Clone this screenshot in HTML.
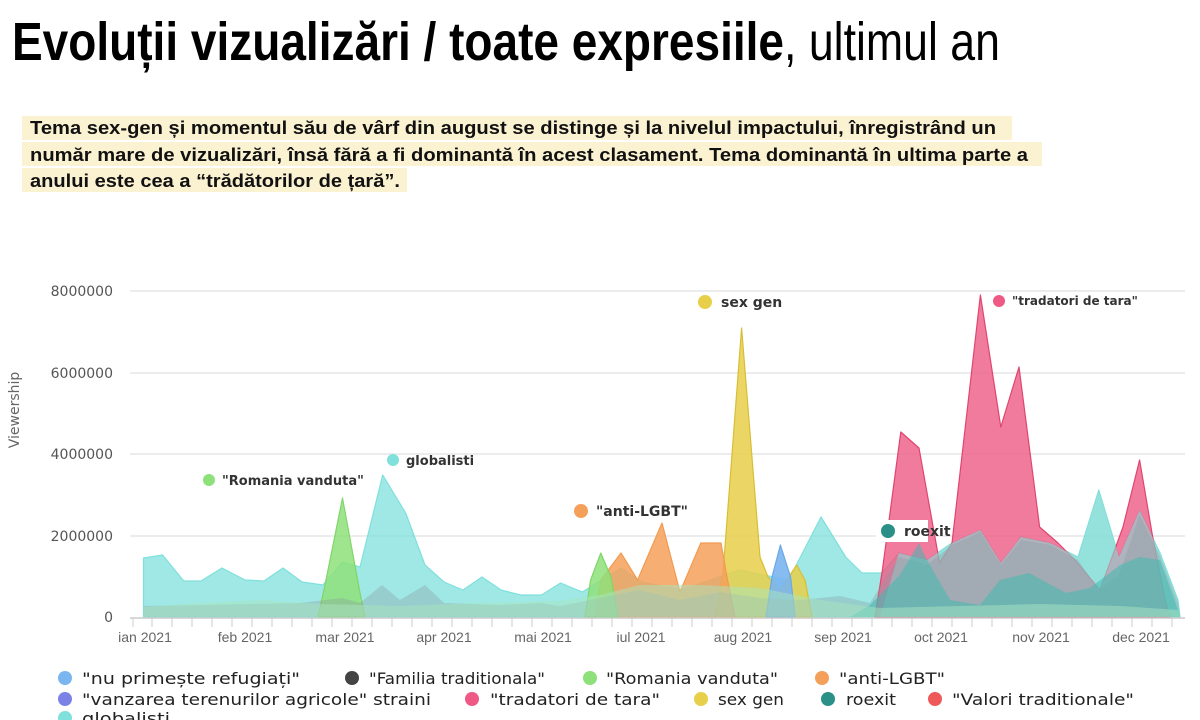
<!DOCTYPE html>
<html><head><meta charset="utf-8"><style>
html,body{margin:0;padding:0;background:#fff;width:1200px;height:720px;overflow:hidden}
svg{display:block}
</style></head><body>
<svg width="1200" height="720" viewBox="0 0 1200 720" xmlns="http://www.w3.org/2000/svg">
<!-- title -->
<text x="12" y="60" font-family="Liberation Sans Narrow, Liberation Sans, sans-serif" font-weight="bold" font-size="54" fill="#000" textLength="772" lengthAdjust="spacingAndGlyphs">Evoluții vizualizări / toate expresiile</text>
<text x="784" y="60" font-family="Liberation Sans Narrow, Liberation Sans, sans-serif" font-size="54" fill="#000" textLength="216" lengthAdjust="spacingAndGlyphs">, ultimul an</text>
<!-- paragraph highlight -->
<rect x="22" y="116" width="990" height="24" fill="#fbf2d2"/>
<rect x="22" y="142" width="1020" height="24" fill="#fbf2d2"/>
<rect x="22" y="168" width="385" height="24" fill="#fbf2d2"/>
<g font-family="Liberation Sans Narrow, Liberation Sans, sans-serif" font-weight="bold" font-size="18" fill="#111">
<text x="30" y="134" textLength="966" lengthAdjust="spacingAndGlyphs">Tema sex-gen și momentul său de vârf din august se distinge și la nivelul impactului, înregistrând un</text>
<text x="30" y="161" textLength="998" lengthAdjust="spacingAndGlyphs">număr mare de vizualizări, însă fără a fi dominantă în acest clasament. Tema dominantă în ultima parte a</text>
<text x="30" y="187" textLength="370" lengthAdjust="spacingAndGlyphs">anului este cea a “trădătorilor de țară”.</text>
</g>
<!-- grid -->
<g stroke="#e6e6e6" stroke-width="1.5">
<line x1="130" y1="291" x2="1185" y2="291"/>
<line x1="130" y1="373" x2="1185" y2="373"/>
<line x1="130" y1="454" x2="1185" y2="454"/>
<line x1="130" y1="536" x2="1185" y2="536"/>
</g>
<g font-family="DejaVu Sans, sans-serif" font-size="14" fill="#555" text-anchor="end">
<text x="113" y="296">8000000</text>
<text x="113" y="378">6000000</text>
<text x="113" y="459">4000000</text>
<text x="113" y="541">2000000</text>
<text x="113" y="622">0</text>
</g>
<text transform="translate(19,410) rotate(-90)" font-family="DejaVu Sans, sans-serif" font-size="14" fill="#666" text-anchor="middle">Viewership</text>
<!-- series -->
<g stroke-width="1.2" stroke-linejoin="round">
<!-- globalisti -->
<path fill="#7fe0dc" fill-opacity="0.75" stroke="#7fe0dc" d="M143.5,617 L143.5,558 162.6,555 183.7,581 201,581 222,568 245,580 264,581 283,568 302,582 323,585 342.5,562 360,567 382.7,475 405.7,513 425,565 444,582 463,590 482,577 501,590 520.5,595 541.5,595 560.6,583 582.4,592 621,568 641.6,582 682,590 739.6,570 788.6,580 821,517 845.7,557 862,573 882,573 898.8,553 927,560 952,543 980.4,530 1000.8,563 1021,537 1050,543 1078,557 1098.8,490 1119,557 1139.6,510 1160,553 1178,600 1180,617 Z"/>
<!-- tradatori -->
<path fill="#ee5a85" fill-opacity="0.8" stroke="#e0456f" d="M875,617 L882.4,570 900.8,432 919,448 939.6,563 952,543 980.4,295 1000.8,427 1019,367 1039.6,527 1058,543 1075,560 1100,590 1123,527 1139.6,460 1152,533 1165,600 1170,617 Z"/>
<!-- sex gen -->
<path fill="#e8cf4a" fill-opacity="0.85" stroke="#d9bd35" d="M715,617 L723,573 741.6,328 760,557 768,577 780,590 796.7,565 805,580 812,617 Z"/>
<!-- anti-LGBT -->
<path fill="#f5a05a" fill-opacity="0.85" stroke="#f29a50" d="M595,617 L600.8,580 621,553 637.6,580 662,523 680,592 700.8,543 721,543 727,577 735,617 Z"/>
<!-- Romania vanduta -->
<path fill="#8ee07a" fill-opacity="0.85" stroke="#7fd66a" d="M318,617 L325,585 342.5,498 360,593 365,617 Z"/>
<path fill="#8ee07a" fill-opacity="0.85" stroke="#7fd66a" d="M585,617 L590.6,580 600.8,553 611,577 618,617 Z"/>
<!-- nu primeste -->
<path fill="#7ab5f0" fill-opacity="0.9" stroke="#6aa8e8" d="M766,617 L772,577 780.4,545 790.6,577 795,617 Z"/>
<!-- overlap cyan over pink lower part -->
<path fill="#8fdcd6" fill-opacity="0.6" stroke="none" d="M880,617 L898.8,553 927,560 952,543 980.4,530 1000.8,563 1021,537 1050,543 1078,557 1098.8,490 1119,557 1139.6,510 1160,553 1178,600 1180,617 Z"/>
<!-- familia (gray overlay) -->
<path fill="#8a9aa0" fill-opacity="0.35" stroke="none" d="M143.5,617 L143.5,606 200,605 250,604 300,603 342,598 360,603 382,585 400,600 425,585 444,603 500,605 540,603 560,606 600,598 640,590 680,600 720,592 760,598 800,600 840,596 870,603 898.8,557 927,565 952,545 980.4,532 1000.8,565 1021,540 1050,545 1078,560 1098.8,590 1119,575 1139.6,515 1160,556 1178,603 1180,617 Z"/>
<!-- roexit / teal -->
<path fill="#3fbab0" fill-opacity="0.55" stroke="none" d="M850,617 L870,605 900,575 919,543 927,560 950,600 980,605 1000,580 1029,573 1066,593 1090,588 1120,565 1139.6,557 1160,560 1178,610 1180,617 Z"/>
<!-- mint low -->
<path fill="#a8e6c0" fill-opacity="0.5" stroke="none" d="M143.5,617 L143.5,607 200,603 260,600 320,604 400,606 480,603 560,601 600,595 640,585 700,585 760,588 820,600 880,608 960,606 1040,604 1120,606 1178,610 1180,617 Z"/>
</g>
<!-- x axis -->
<line x1="130" y1="618" x2="1185" y2="618" stroke="#ccc" stroke-width="1.5"/>
<g stroke="#ccc" stroke-width="1">
<path d="M133,618v9 M152,618v9 M172,618v9 M192,618v9 M212,618v9 M232,618v9 M252,618v9 M272,618v9 M292,618v9 M312,618v9 M332,618v9 M352,618v9 M372,618v9 M392,618v9 M412,618v9 M432,618v9 M452,618v9 M472,618v9 M492,618v9 M512,618v9 M532,618v9 M552,618v9 M572,618v9 M592,618v9 M612,618v9 M632,618v9 M652,618v9 M672,618v9 M692,618v9 M712,618v9 M732,618v9 M752,618v9 M772,618v9 M792,618v9 M812,618v9 M832,618v9 M852,618v9 M872,618v9 M892,618v9 M912,618v9 M932,618v9 M952,618v9 M972,618v9 M992,618v9 M1012,618v9 M1032,618v9 M1052,618v9 M1072,618v9 M1092,618v9 M1112,618v9 M1132,618v9 M1152,618v9 M1172,618v9"/>
</g>
<g font-family="Liberation Sans Narrow, Liberation Sans, sans-serif" font-size="14" fill="#666" text-anchor="middle">
<text x="145" y="642">ian 2021</text>
<text x="245" y="642">feb 2021</text>
<text x="345" y="642">mar 2021</text>
<text x="444" y="642">apr 2021</text>
<text x="543" y="642">mai 2021</text>
<text x="641" y="642">iul 2021</text>
<text x="743" y="642">aug 2021</text>
<text x="843" y="642">sep 2021</text>
<text x="941" y="642">oct 2021</text>
<text x="1041" y="642">nov 2021</text>
<text x="1141" y="642">dec 2021</text>
</g>
<!-- annotations -->
<g font-family="DejaVu Sans, sans-serif" font-weight="bold" font-size="13" fill="#333">
<circle cx="209" cy="480" r="6" fill="#8ee07a"/><text x="222" y="485">"Romania vanduta"</text>
<circle cx="393" cy="460" r="6" fill="#7fe0dc"/><text x="406" y="465">globalisti</text>
<circle cx="581" cy="511" r="7" fill="#f5a05a"/><text x="596" y="516" font-size="14">"anti-LGBT"</text>
<circle cx="705" cy="302" r="7" fill="#e8cf4a"/><text x="721" y="307" font-size="14">sex gen</text>
<circle cx="999" cy="301" r="6" fill="#ee5a85"/><text x="1012" y="305" font-size="12">"tradatori de tara"</text>
<rect x="876" y="520" width="52" height="22" fill="#fff"/>
<circle cx="888" cy="531" r="7" fill="#2a9088"/><text x="904" y="536" font-size="14">roexit</text>
</g>
<!-- legend -->
<g font-family="DejaVu Sans, sans-serif" font-size="16" fill="#222">
<circle cx="65" cy="678" r="7" fill="#7ab5f0"/><text x="82" y="684" textLength="218" lengthAdjust="spacingAndGlyphs">"nu primește refugiați"</text>
<circle cx="352" cy="678" r="7" fill="#444"/><text x="369" y="684" textLength="176" lengthAdjust="spacingAndGlyphs">"Familia traditionala"</text>
<circle cx="590" cy="678" r="7" fill="#8ee07a"/><text x="606" y="684" textLength="172" lengthAdjust="spacingAndGlyphs">"Romania vanduta"</text>
<circle cx="822" cy="678" r="7" fill="#f5a05a"/><text x="839" y="684" textLength="106" lengthAdjust="spacingAndGlyphs">"anti-LGBT"</text>
<circle cx="65" cy="699" r="7" fill="#7b82e6"/><text x="82" y="705" textLength="349" lengthAdjust="spacingAndGlyphs">"vanzarea terenurilor agricole" straini</text>
<circle cx="472" cy="699" r="7" fill="#ee5a85"/><text x="490" y="705" textLength="170" lengthAdjust="spacingAndGlyphs">"tradatori de tara"</text>
<circle cx="701" cy="699" r="7" fill="#e8cf4a"/><text x="718" y="705" textLength="66" lengthAdjust="spacingAndGlyphs">sex gen</text>
<circle cx="828" cy="699" r="7" fill="#2a9088"/><text x="846" y="705" textLength="50" lengthAdjust="spacingAndGlyphs">roexit</text>
<circle cx="935" cy="699" r="7" fill="#ee5a5a"/><text x="952" y="705" textLength="182" lengthAdjust="spacingAndGlyphs">"Valori traditionale"</text>
<circle cx="65" cy="718" r="7" fill="#7fe0dc"/><text x="82" y="724" textLength="88" lengthAdjust="spacingAndGlyphs">globalisti</text>
</g>
</svg>
</body></html>
